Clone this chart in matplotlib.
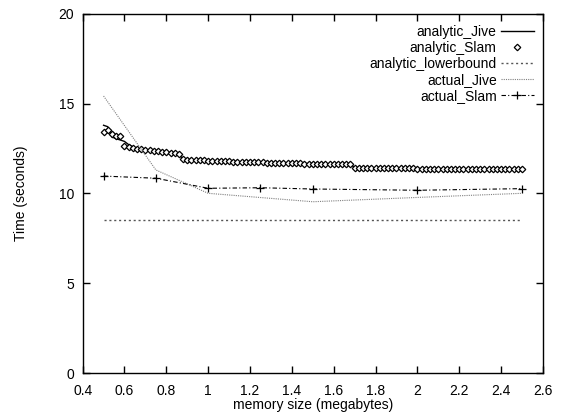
import matplotlib
matplotlib.use('Agg')
import matplotlib.pyplot as plt

plt.rcParams['font.family'] = ['Liberation Sans', 'DejaVu Sans']
plt.rcParams['font.size'] = 10

# memory sizes for the analytic curves (MB)
memory_mb = [
    0.50, 0.52, 0.54, 0.56, 0.58, 0.60, 0.62, 0.64, 0.66, 0.68,
    0.70, 0.72, 0.74, 0.76, 0.78, 0.80, 0.82, 0.84, 0.86, 0.88,
    0.90, 0.92, 0.94, 0.96, 0.98, 1.00, 1.02, 1.04, 1.06, 1.08,
    1.10, 1.12, 1.14, 1.16, 1.18, 1.20, 1.22, 1.24, 1.26, 1.28,
    1.30, 1.32, 1.34, 1.36, 1.38, 1.40, 1.42, 1.44, 1.46, 1.48,
    1.50, 1.52, 1.54, 1.56, 1.58, 1.60, 1.62, 1.64, 1.66, 1.68,
    1.70, 1.72, 1.74, 1.76, 1.78, 1.80, 1.82, 1.84, 1.86, 1.88,
    1.90, 1.92, 1.94, 1.96, 1.98, 2.00, 2.02, 2.04, 2.06, 2.08,
    2.10, 2.12, 2.14, 2.16, 2.18, 2.20, 2.22, 2.24, 2.26, 2.28,
    2.30, 2.32, 2.34, 2.36, 2.38, 2.40, 2.42, 2.44, 2.46, 2.48,
    2.50,
]

analytic_slam = [
    13.45, 13.55, 13.32, 13.22, 13.20, 12.62, 12.58, 12.54, 12.50, 12.47,
    12.44, 12.41, 12.38, 12.36, 12.33, 12.30, 12.28, 12.25, 12.20, 11.90,
    11.88, 11.87, 11.86, 11.85, 11.84, 11.83, 11.82, 11.81, 11.80, 11.79,
    11.79, 11.78, 11.77, 11.76, 11.76, 11.75, 11.74, 11.74, 11.73, 11.72,
    11.72, 11.71, 11.70, 11.70, 11.69, 11.69, 11.68, 11.68, 11.67, 11.67,
    11.66, 11.66, 11.65, 11.65, 11.64, 11.64, 11.64, 11.63, 11.63, 11.62,
    11.44, 11.44, 11.43, 11.43, 11.43, 11.42, 11.42, 11.42, 11.41, 11.41,
    11.41, 11.40, 11.40, 11.40, 11.40, 11.39, 11.39, 11.39, 11.39, 11.38,
    11.38, 11.38, 11.38, 11.38, 11.37, 11.37, 11.37, 11.37, 11.37, 11.36,
    11.36, 11.36, 11.36, 11.36, 11.36, 11.35, 11.35, 11.36, 11.34, 11.36,
    11.35,
]

analytic_jive = [
    13.80, 13.72, 13.15, 13.05, 12.98, 12.90, 12.72, 12.60, 12.52, 12.47,
    12.44, 12.41, 12.38, 12.36, 12.33, 12.30, 12.28, 12.25, 12.20, 11.90,
    11.88, 11.87, 11.86, 11.85, 11.84, 11.83, 11.82, 11.81, 11.80, 11.79,
    11.79, 11.78, 11.77, 11.76, 11.76, 11.75, 11.74, 11.74, 11.73, 11.72,
    11.72, 11.71, 11.70, 11.70, 11.69, 11.69, 11.68, 11.68, 11.67, 11.67,
    11.66, 11.66, 11.65, 11.65, 11.64, 11.64, 11.64, 11.63, 11.63, 11.62,
    11.44, 11.44, 11.43, 11.43, 11.43, 11.42, 11.42, 11.42, 11.41, 11.41,
    11.41, 11.40, 11.40, 11.40, 11.40, 11.39, 11.39, 11.39, 11.39, 11.38,
    11.38, 11.38, 11.38, 11.38, 11.37, 11.37, 11.37, 11.37, 11.37, 11.36,
    11.36, 11.36, 11.36, 11.36, 11.36, 11.35, 11.35, 11.35, 11.35, 11.35,
    11.35,
]

lowerbound_x = [0.5, 2.5]
lowerbound_y = [8.55, 8.55]

actual_jive_x = [0.5, 0.75, 1.0, 1.5, 2.0, 2.5]
actual_jive_y = [15.43, 11.31, 10.01, 9.54, 9.78, 10.01]

actual_slam_x = [0.5, 0.75, 1.0, 1.25, 1.5, 2.0, 2.5]
actual_slam_y = [10.97, 10.85, 10.29, 10.32, 10.25, 10.18, 10.27]

fig = plt.figure(figsize=(5.7, 4.17), dpi=100)
ax = fig.add_axes([0.145, 0.1055, 0.8075, 0.861])

ax.plot(memory_mb, analytic_jive, color='black', lw=1.0, label='analytic_Jive')
ax.plot(memory_mb, analytic_slam, linestyle='none', marker='D', markersize=3.3,
        markerfacecolor='white', markeredgecolor='black', markeredgewidth=0.9,
        label='analytic_Slam')
ax.plot(lowerbound_x, lowerbound_y, color='#555555', lw=1.0, linestyle=(0, (1.5, 2)),
        label='analytic_lowerbound')
ax.plot(actual_jive_x, actual_jive_y, color='#808080', lw=0.8, linestyle=(0, (1, 1)),
        label='actual_Jive')
ax.plot(actual_slam_x, actual_slam_y, color='black', lw=0.8, linestyle=(0, (4, 2, 1, 2)),
        marker='+', markersize=5.5, markeredgewidth=0.9, label='actual_Slam')

ax.set_xlim(0.4, 2.6)
ax.set_ylim(0, 20)
ax.set_xticks([0.4, 0.6, 0.8, 1, 1.2, 1.4, 1.6, 1.8, 2, 2.2, 2.4, 2.6])
ax.set_xticklabels(['0.4', '0.6', '0.8', '1', '1.2', '1.4', '1.6', '1.8', '2', '2.2', '2.4', '2.6'])
ax.set_yticks([0, 5, 10, 15, 20])
ax.tick_params(direction='in', top=True, right=True, length=5, width=1)
ax.tick_params(axis='x', pad=8)
ax.tick_params(axis='y', pad=6)
for s in ax.spines.values():
    s.set_linewidth(1.0)

ax.set_xlabel('memory size (megabytes)', labelpad=0)
ax.set_ylabel('Time (seconds)', labelpad=22)

ax.legend(loc='upper right', frameon=False, markerfirst=False, handlelength=2.4,
          handletextpad=0.3, labelspacing=0.15, borderaxespad=0.0,
          bbox_to_anchor=(0.993, 0.985))

fig.savefig('out.png', dpi=100)
